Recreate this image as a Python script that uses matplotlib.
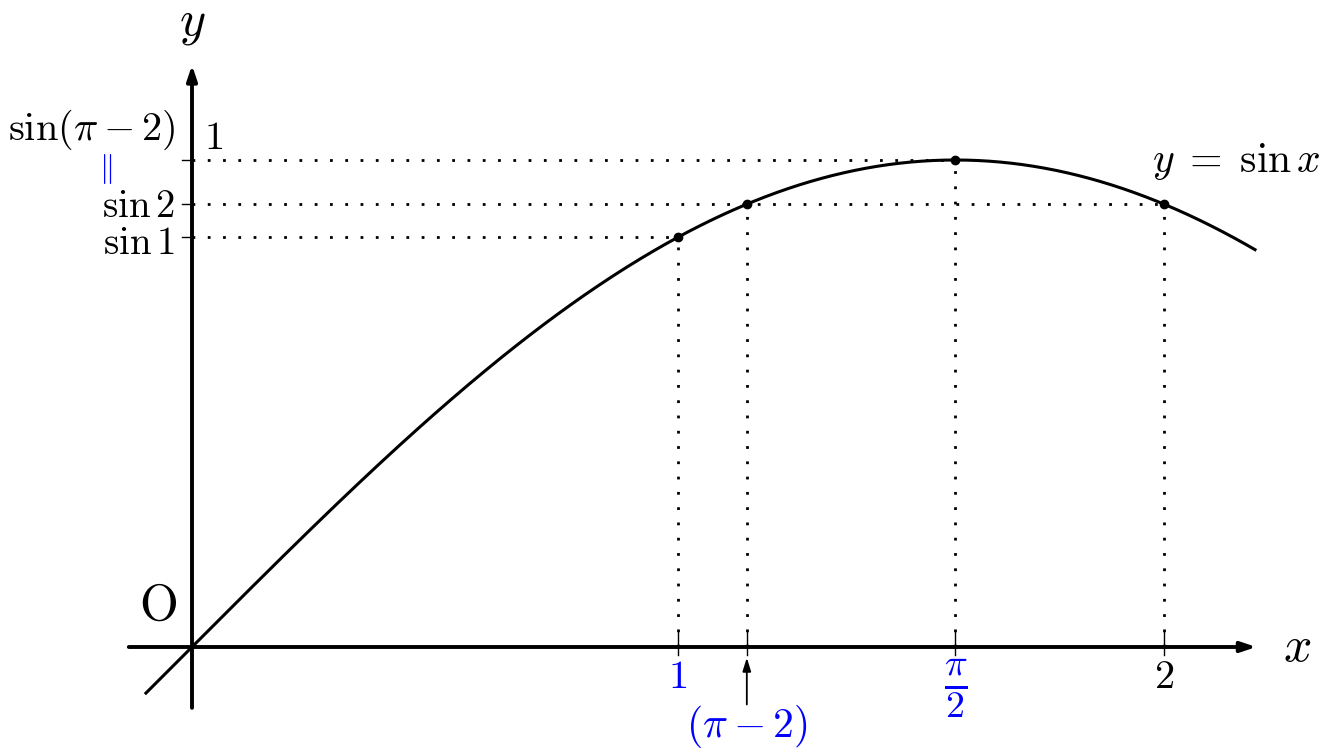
import numpy as np
import matplotlib
matplotlib.use("Agg")
import matplotlib.pyplot as plt

plt.rcParams['mathtext.fontset'] = 'cm'
plt.rcParams['font.family'] = ['DejaVu Serif']

# marked x positions on the curve y = sin x
x_marks = [1.0, np.pi - 2, np.pi / 2, 2.0]
x_tick_labels = [r'$1$', None, r'$\frac{\pi}{2}$', r'$2$']
x_tick_colors = ['blue', None, 'blue', 'black']
# y values marked on the y axis
y_marks = [np.sin(1.0), np.sin(2.0), 1.0]
curve_range = (-0.097, 2.19)

BLUE = '#0000ff'

fig = plt.figure(figsize=(13.27, 7.54), dpi=100)
ax = fig.add_axes([0, 0, 1, 1])
ax.set_xlim(-192 / 486, (1327 - 192) / 486)
ax.set_ylim(-(754 - 647) / 487, 647 / 487)
ax.axis('off')

# axes with arrow heads
arrow_style = dict(arrowstyle='-|>,head_length=0.9,head_width=0.3', lw=2.8,
                   color='black', shrinkA=0, shrinkB=0)
ax.annotate('', xy=(2.19, 0), xytext=(-0.13, 0), arrowprops=arrow_style)
ax.annotate('', xy=(0, 1.195), xytext=(0, -0.125), arrowprops=arrow_style)

# curve
xs = np.linspace(curve_range[0], curve_range[1], 400)
ax.plot(xs, np.sin(xs), color='black', lw=2.2, solid_capstyle='butt')

# dotted guide lines
dot = dict(color='black', lw=2.0, linestyle=(0, (1, 4.5)), dash_capstyle='butt')
ax.plot([0, np.pi / 2], [1, 1], **dot)
ax.plot([0, 2], [np.sin(2), np.sin(2)], **dot)
ax.plot([0, 1], [np.sin(1), np.sin(1)], **dot)
for xm in x_marks:
    ax.plot([xm, xm], [0, np.sin(xm)], **dot)

# points on curve
ax.plot(x_marks, np.sin(x_marks), 'o', color='black', ms=6)

# tick marks
for xm in x_marks:
    ax.plot([xm, xm], [-0.017, 0.033], color='black', lw=1.0)
for ym in y_marks:
    ax.plot([-0.02, 0], [ym, ym], color='black', lw=1.0)

# axis labels
ax.text(0, 1.283, r'$y$', fontsize=36, ha='center', va='center')
ax.text(2.274, 0, r'$x$', fontsize=36, ha='center', va='center')
ax.text(-0.07, 0.085, r'$\mathrm{O}$', fontsize=36, ha='center', va='center')

# x labels
for xm, lab, col in zip(x_marks, x_tick_labels, x_tick_colors):
    if lab is None:
        continue
    c = BLUE if col == 'blue' else col
    if 'frac' in lab:
        ax.text(xm, -0.088, lab, fontsize=39, ha='center', va='center', color=c)
    else:
        ax.text(xm, -0.062, lab, fontsize=29, ha='center', va='center', color=c)

ax.annotate('', xy=(np.pi - 2, -0.022), xytext=(np.pi - 2, -0.118),
            arrowprops=dict(arrowstyle='-|>,head_length=0.8,head_width=0.25',
                            lw=1.3, color='black', shrinkA=0, shrinkB=0))
ax.text(np.pi - 2, -0.163, r'$(\pi - 2)$', fontsize=30, ha='center', va='center', color=BLUE)

# y labels
ax.text(-0.035, 1.062, r'$\sin(\pi - 2)$', fontsize=29, ha='right', va='center')
ax.text(0.045, 1.044, r'$1$', fontsize=29, ha='center', va='center')
ax.text(-0.177, 0.981, r'$\Vert$', fontsize=22, ha='center', va='center', color=BLUE)
ax.text(-0.035, np.sin(2) - 0.004, r'$\sin 2$', fontsize=28, ha='right', va='center')
ax.text(-0.035, np.sin(1) - 0.012, r'$\sin 1$', fontsize=28, ha='right', va='center')

# curve label
ax.text(2.15, 0.997, r'$y\;=\;\sin x$', fontsize=30, ha='center', va='center')

fig.savefig('out.png', dpi=100)
